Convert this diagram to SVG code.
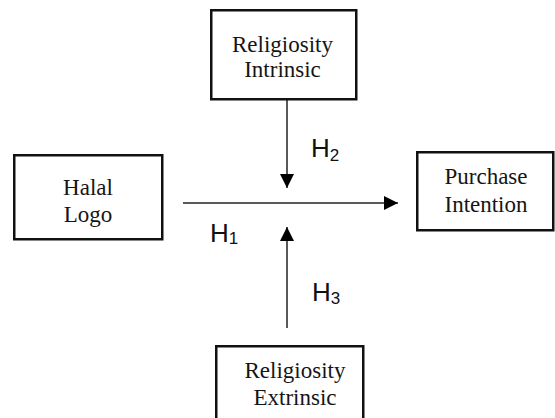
<svg xmlns="http://www.w3.org/2000/svg" width="555" height="418" viewBox="0 0 555 418">
<defs>
<style>
.box{fill:#fff;stroke:#111;stroke-width:2.5}
.lbl{font-family:'Liberation Serif','Times New Roman',serif;font-size:23px;fill:#151515;text-anchor:middle}
.h{font-family:'Liberation Sans',Arial,sans-serif;font-size:26px;fill:#111}
.sub{font-size:17px}
.conn{stroke:#222;stroke-width:1.5;fill:none;marker-end:url(#ah)}
</style>
<marker id="ah" viewBox="0 0 14 14" refX="14" refY="7" markerWidth="14" markerHeight="14" markerUnits="userSpaceOnUse" orient="auto">
<path d="M0,0 L14,7 L0,14 Z" fill="#000"/>
</marker>
</defs>
<rect width="555" height="418" fill="#fff"/>
<g id="connectors">
<path class="conn" d="M183,203 L398,203"/>
<path class="conn" d="M287,100 L287,188"/>
<path class="conn" d="M287,328 L287,227"/>
</g>
<g id="religiosity-intrinsic">
<rect class="box" x="211.25" y="10.25" width="145" height="89"/>
<text class="lbl" x="282.5" y="52">Religiosity</text>
<text class="lbl" x="282.5" y="77">Intrinsic</text>
</g>
<g id="halal-logo">
<rect class="box" x="14.25" y="155.25" width="148" height="84"/>
<text class="lbl" x="88" y="195">Halal</text>
<text class="lbl" x="88" y="222">Logo</text>
</g>
<g id="purchase-intention">
<rect class="box" x="417.25" y="152.25" width="136" height="78"/>
<text class="lbl" x="486" y="184">Purchase</text>
<text class="lbl" x="486" y="212">Intention</text>
</g>
<g id="religiosity-extrinsic">
<rect class="box" x="216.25" y="346.25" width="147" height="90"/>
<text class="lbl" x="295" y="378">Religiosity</text>
<text class="lbl" x="295" y="405">Extrinsic</text>
</g>
<g id="labels">
<text class="h" x="311" y="157">H<tspan class="sub" dy="4">2</tspan></text>
<text class="h" x="210" y="242">H<tspan class="sub" dy="2">1</tspan></text>
<text class="h" x="312" y="301">H<tspan class="sub" dy="3">3</tspan></text>
</g>
</svg>
